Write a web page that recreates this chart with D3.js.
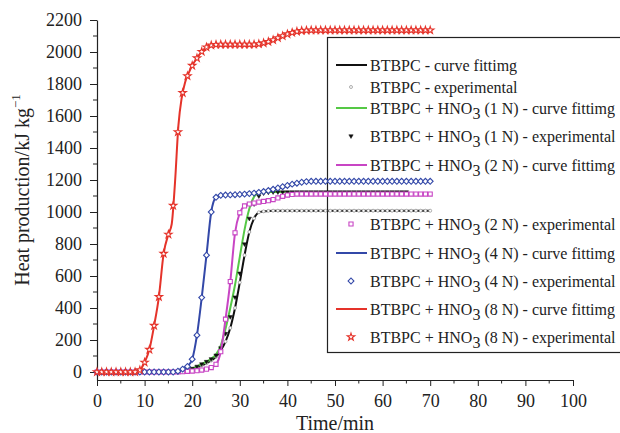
<!DOCTYPE html>
<html>
<head>
<meta charset="utf-8">
<script src="https://cdn.jsdelivr.net/npm/d3@7"></script>
<style>
body { margin: 0; background: #fff; }
svg { display: block; }
text { font-family: "Liberation Serif", "Times New Roman", serif; fill: #222; }
</style>
</head>
<body>
<svg id="main" width="620" height="433"></svg>
<script>

// experimental values, one per minute (from 0 min)
const minutes = d3.range(0, 71);

const btbpcExp = [0,0,0,0,0,0,0,0,0,0,0,0,0,0,0,0,0,0,
	4,10,18,28,40,55,72,95,135,190,275,400,560,730,875,960,998,1004,1007,
	1008,1008,1008,1008,1008,1008,1008,1008,1008,1008,1008,1008,1008,1008,1008,1008,1008,
	1008,1008,1008,1008,1008,1008,1008,1008,1008,1008,1008,1008,1008,1008,1008,1008,1008];

const n1Exp = [0,0,0,0,0,0,0,0,0,0,0,0,0,0,0,0,0,0,
	5,12,22,35,50,65,82,105,150,240,345,468,617,800,960,1050,1100,1118,1123,
	1125,1125,1125,1125,1125,1125,1125,1125,1125,1125,1125,1125,1125,1125,1125,
	1125,1125,1125,1125,1125,1125,1125,1125,1125,1125,1125,1125,1125,1125];

const n2Exp = [0,0,0,0,0,0,0,0,0,0,0,0,0,0,0,0,0,0,
	2,4,6,8,12,18,28,48,127,330,565,870,995,1038,1050,1056,1062,1066,1071,1078,1088,1098,1106,1110,1112,
	1112,1112,1112,1112,1112,1112,1112,1112,1112,1112,1112,1112,1112,1112,
	1112,1112,1112,1112,1112,1112,1112,1112,1112,1112,1112,1112,1112,1112];

const n4Exp = [0,0,0,0,0,0,0,0,0,0,0,0,0,0,0,0,0,
	5,18,35,80,230,465,730,1000,1092,1104,1106,1107,1108,1110,1112,1115,1118,1123,1128,1134,1142,1150,1158,1166,1174,1180,1186,1190,
	1192,1192,1192,1192,1192,1192,1192,1192,1192,1192,1192,1192,1192,
	1192,1192,1192,1192,1192,1192,1192,1192,1192,1192,1192,1192,1192];

const n8Exp = [0,0,0,0,0,0,0,0,0,
	12,60,140,290,470,740,860,1040,1500,1745,1850,1915,1962,2002,2030,2042,2046,
	2047,2047,2047,2047,2047,2047,2047,2047,
	2050,2056,2064,2075,2088,2100,2112,2121,2128,2133,2135,
	2136,2136,2136,2136,2136,2136,2136,2136,2136,2136,2136,2136,2136,
	2136,2136,2136,2136,2136,2136,2136,2136,2136,2136,2136,2136,2136];

// curve fitting, [min, kJ/kg]
const btbpcFit = [[0,0],[17,0],[20,18],[22,40],[24,72],[25,95],[26,135],[27,190],[28,275],[29,400],[30,560],
	[31,730],[32,875],[33,960],[34,998],[35,1004],[36,1007],[37,1008],[70,1008]];
const n1Fit = [[0,0],[17,0],[20,22],[22,50],[24,82],[25,110],[26,165],[27,270],[28,400],[29,545],[30,720],
	[31,890],[32,1020],[33,1095],[34,1120],[35,1125],[65,1125]];
const n2Fit = [[0,0],[17,0],[20,6],[22,12],[24,28],[25,48],[26,127],[27,330],[28,565],[29,870],[30,995],
	[31,1038],[32,1050],[34,1062],[36,1071],[38,1088],[40,1106],[42,1112],[70,1112]];
const n4Fit = [[0,0],[16,0],[18,18],[19,35],[20,80],[21,230],[22,465],[23,730],[24,1000],[25,1092],[26,1104],
	[28,1107],[30,1110],[32,1115],[34,1123],[36,1134],[38,1150],[40,1166],[42,1180],[44,1190],[45,1192],[70,1192]];
const n8Fit = [[0,0],[8,0],[9,12],[10,60],[11,140],[12,290],[13,470],[14,740],[15,860],[15.7,925],[16.4,1190],
	[17.1,1540],[17.8,1714],[18.5,1810],[19.3,1871],[20,1915],[21,1962],[22,2002],[23,2030],[24,2042],[26,2047],
	[33,2048],[35,2056],[37,2075],[39,2100],[41,2121],[43,2133],[45,2136],[70,2136]];

const xTicks = [0,10,20,30,40,50,60,70,80,90,100];
const yTicks = [0,200,400,600,800,1000,1200,1400,1600,1800,2000,2200];

const legendLabels = [
	['BTBPC - curve fittimg'],
	['BTBPC - experimental'],
	['BTBPC + HNO', '3', ' (1 N) - curve fittimg'],
	['BTBPC + HNO', '3', ' (1 N) - experimental'],
	['BTBPC + HNO', '3', ' (2 N) - curve fittimg'],
	['BTBPC + HNO', '3', ' (2 N) - experimental'],
	['BTBPC + HNO', '3', ' (4 N) - curve fittimg'],
	['BTBPC + HNO', '3', ' (4 N) - experimental'],
	['BTBPC + HNO', '3', ' (8 N) - curve fittimg'],
	['BTBPC + HNO', '3', ' (8 N) - experimental']
];

main();

function main() {
	let svg = d3.select('#main');

	let x = d3.scaleLinear().domain([0, 100]).range([97, 573]);
	let y = d3.scaleLinear().domain([-50, 2200]).range([380, 20]);

	// axes
	let xAxis = svg.append('g')
		.attr('transform', 'translate(0,380)')
		.call(d3.axisBottom(x).tickValues(xTicks).tickFormat(d3.format('d')).tickSize(6).tickSizeOuter(0).tickPadding(8));
	xAxis.selectAll('.tick line').attr('stroke', '#222');
	xAxis.select('.domain').attr('stroke', '#222').attr('stroke-width', 1.2);
	xAxis.selectAll('text').attr('font-size', 18).attr('fill', '#222');
	xAxis.selectAll('.minor')
		.data(d3.range(5, 100, 10))
		.enter().append('line')
		.attr('x1', d => x(d)).attr('x2', d => x(d))
		.attr('y1', 0).attr('y2', 3.5)
		.attr('stroke', '#222');

	let yAxis = svg.append('g')
		.attr('transform', 'translate(97,0)')
		.call(d3.axisLeft(y).tickValues(yTicks).tickFormat(d3.format('d')).tickSize(7).tickSizeOuter(0).tickPadding(8));
	yAxis.selectAll('.tick line').attr('stroke', '#222');
	yAxis.select('.domain').attr('stroke', '#222').attr('stroke-width', 1.2);
	yAxis.selectAll('text').attr('font-size', 18).attr('fill', '#222');
	yAxis.selectAll('.minor')
		.data(d3.range(100, 2200, 200))
		.enter().append('line')
		.attr('y1', d => y(d)).attr('y2', d => y(d))
		.attr('x1', 0).attr('x2', -4)
		.attr('stroke', '#222');

	svg.append('text')
		.attr('x', 335).attr('y', 430)
		.attr('text-anchor', 'middle')
		.attr('font-size', 20)
		.text('Time/min');

	let yt = svg.append('text')
		.attr('transform', 'translate(29,190) rotate(-90)')
		.attr('text-anchor', 'middle')
		.attr('font-size', 20);
	yt.append('tspan').text('Heat production/kJ kg');
	yt.append('tspan').attr('font-size', 13).attr('dy', -9).text('\u22121');

	// legend box (drawn under the data)
	svg.append('rect')
		.attr('x', 327.5).attr('y', 37.5)
		.attr('width', 320).attr('height', 315)
		.attr('fill', 'none').attr('stroke', '#222').attr('stroke-width', 1.2);

	let markers = {
		circle: { type: d3.symbolCircle, size: 7, fill: '#fff', stroke: '#999', sw: 0.8, rot: 0 },
		tri: { type: d3.symbolTriangle, size: 8, fill: '#111', stroke: '#111', sw: 0.5, rot: 180 },
		square: { type: d3.symbolSquare, size: 17, fill: '#fff', stroke: '#c845c4', sw: 1.1, rot: 0 },
		diamond: { type: d3.symbolSquare, size: 17, fill: '#fff', stroke: '#3348a8', sw: 1.1, rot: 45 },
		star: { type: d3.symbolStar, size: 17, fill: '#fff', stroke: '#e5332a', sw: 1.1, rot: 0 }
	};

	let series = [
		{ fit: btbpcFit, exp: btbpcExp, color: '#111', mk: markers.circle },
		{ fit: n1Fit, exp: n1Exp, color: '#55c845', mk: markers.tri },
		{ fit: n2Fit, exp: n2Exp, color: '#c845c4', mk: markers.square },
		{ fit: n4Fit, exp: n4Exp, color: '#3348a8', mk: markers.diamond },
		{ fit: n8Fit, exp: n8Exp, color: '#e5332a', mk: markers.star }
	];

	let line = d3.line()
		.x(d => x(d[0]))
		.y(d => y(d[1]))
		.curve(d3.curveMonotoneX);

	series.forEach(s => {
		svg.append('path')
			.attr('d', line(s.fit))
			.attr('fill', 'none')
			.attr('stroke', s.color)
			.attr('stroke-width', 2);

		svg.append('g')
			.selectAll('path')
			.data(s.exp)
			.enter()
			.append('path')
			.attr('d', d3.symbol().type(s.mk.type).size(s.mk.size))
			.attr('transform', (d, i) => `translate(${x(minutes[i])},${y(d)}) rotate(${s.mk.rot})`)
			.attr('fill', s.mk.fill)
			.attr('stroke', s.mk.stroke)
			.attr('stroke-width', s.mk.sw);
	});

	// legend
	let legendY = [65, 87, 108, 136, 165, 224, 253, 281, 309, 337];
	let leg = svg.append('g');
	legendLabels.forEach((lab, i) => {
		let s = series[Math.floor(i / 2)];
		let cy = legendY[i];
		if (i % 2 == 0) {
			leg.append('line')
				.attr('x1', 336).attr('x2', 367)
				.attr('y1', cy).attr('y2', cy)
				.attr('stroke', s.color).attr('stroke-width', 2);
		} else {
			leg.append('path')
				.attr('d', d3.symbol().type(s.mk.type).size(s.mk.size))
				.attr('transform', `translate(351,${cy}) rotate(${s.mk.rot})`)
				.attr('fill', s.mk.fill)
				.attr('stroke', s.mk.stroke)
				.attr('stroke-width', s.mk.sw);
		}
		let t = leg.append('text')
			.attr('x', 370).attr('y', cy + 5.5)
			.attr('font-size', 16);
		t.append('tspan').text(lab[0]);
		if (lab.length > 1) {
			t.append('tspan').attr('dy', 5).text(lab[1]);
			t.append('tspan').attr('dy', -5).text(lab[2]);
		}
	});
}

</script>
</body>
</html>
